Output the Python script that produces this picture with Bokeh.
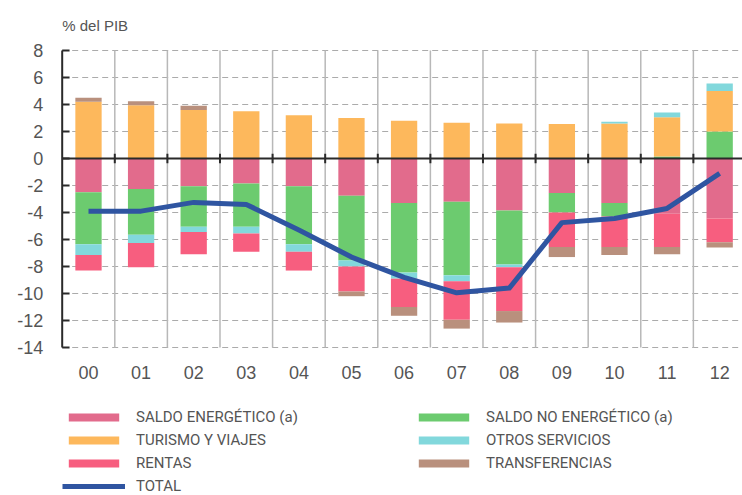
from bokeh.plotting import figure
from bokeh.models import Range1d, Legend, LegendItem
from bokeh.core.properties import value
from bokeh.embed import file_html
from bokeh.resources import INLINE

years = ["00", "01", "02", "03", "04", "05", "06", "07", "08", "09", "10", "11", "12"]
saldo_energetico = [-2.5, -2.25, -2.05, -1.85, -2.05, -2.75, -3.3, -3.2, -3.85, -2.55, -3.3, -4.1, -4.45]
saldo_no_energetico = [-3.85, -3.4, -3.0, -3.2, -4.3, -4.8, -5.15, -5.45, -4.0, -1.45, -1.0, 0.15, 2.0]
turismo_viajes = [4.2, 3.95, 3.6, 3.5, 3.2, 3.0, 2.8, 2.65, 2.6, 2.55, 2.6, 2.9, 3.0]
otros_servicios = [-0.8, -0.6, -0.4, -0.5, -0.55, -0.45, -0.45, -0.45, -0.2, 0.0, 0.12, 0.35, 0.55]
rentas = [-1.15, -1.8, -1.65, -1.35, -1.4, -1.85, -2.1, -2.85, -3.25, -2.55, -2.25, -2.45, -1.75]
transferencias = [0.3, 0.3, 0.3, 0.0, 0.0, -0.35, -0.65, -0.65, -0.85, -0.75, -0.6, -0.55, -0.4]
total = [-3.9, -3.9, -3.25, -3.4, -5.3, -7.3, -8.8, -9.95, -9.6, -4.75, -4.45, -3.7, -1.1]
y_ticks = [-14, -12, -10, -8, -6, -4, -2, 0, 2, 4, 6, 8]
y_label = "% del PIB"

series = [
    ("SALDO ENERGÉTICO (a)", saldo_energetico, "#E26B8C"),
    ("SALDO NO ENERGÉTICO (a)", saldo_no_energetico, "#6CCB6F"),
    ("TURISMO Y VIAJES", turismo_viajes, "#FDB85C"),
    ("OTROS SERVICIOS", otros_servicios, "#82D8DC"),
    ("RENTAS", rentas, "#F75E7F"),
    ("TRANSFERENCIAS", transferencias, "#B9907D"),
]
total_color = "#2F55A1"
text_color = "#555555"
axis_color = "#2A2A2A"

n = len(years)
xs = [i + 0.5 for i in range(n)]
ymin, ymax = min(y_ticks), max(y_ticks)

# the whole canvas is the plotting frame; scales chosen so the chart area sits where the reference has it
p = figure(width=742, height=495, output_backend="svg", toolbar_location=None,
           x_axis_type=None, y_axis_type=None, title_location=None,
           x_range=Range1d(-1.173, 12.934), y_range=Range1d(-24.963, 11.704),
           min_border=0)
p.outline_line_color = None
p.background_fill_color = "white"
p.border_fill_color = "white"

right_end = p.x_range.end

# horizontal dashed grid
grid_ys = [t for t in y_ticks if t != 0]
p.segment(x0=[0] * len(grid_ys), y0=grid_ys, x1=[right_end] * len(grid_ys), y1=grid_ys,
          line_color="#ABABAB", line_width=1, line_dash="6 4")
# vertical grid at category boundaries
bounds = list(range(1, n + 1))
p.segment(x0=bounds, y0=[ymin] * len(bounds), x1=bounds, y1=[ymax] * len(bounds),
          line_color="#B8B8B8", line_width=1.5)

# stacked bars (positive and negative stacks)
pos_base = [0.0] * n
neg_base = [0.0] * n
renderers = {}
for name, vals, color in series:
    bottoms, tops = [], []
    for i, v in enumerate(vals):
        if v >= 0:
            b = pos_base[i]; t = b + v; pos_base[i] = t
        else:
            b = neg_base[i]; t = b + v; neg_base[i] = t
        bottoms.append(b); tops.append(t)
    r = p.vbar(x=xs, width=0.5, bottom=bottoms, top=tops, fill_color=color, line_color=None)
    renderers[name] = r

# zero line with boundary ticks
p.segment(x0=[0], y0=[0], x1=[right_end], y1=[0], line_color=axis_color, line_width=2)
zb = list(range(1, n))
p.segment(x0=zb, y0=[-0.35] * len(zb), x1=zb, y1=[0.35] * len(zb),
          line_color=axis_color, line_width=2)

# left axis (line, inward ticks, labels)
p.segment(x0=[0], y0=[ymin], x1=[0], y1=[ymax], line_color=axis_color, line_width=2)
p.segment(x0=[0] * len(y_ticks), y0=y_ticks, x1=[0.14] * len(y_ticks), y1=y_ticks,
          line_color=axis_color, line_width=2)
p.text(x=[0] * len(y_ticks), y=y_ticks, text=[str(t) for t in y_ticks],
       x_offset=-19, text_align="right", text_baseline="middle",
       text_font=value("Liberation Sans"), text_font_size="18px", text_color=text_color)
# category labels
p.text(x=xs, y=[ymin] * n, text=years, y_offset=25, text_align="center", text_baseline="middle",
       text_font=value("Liberation Sans"), text_font_size="18px", text_color=text_color)
# unit label
p.text(x=[0], y=[ymax], text=[y_label], y_offset=-25, text_align="left", text_baseline="middle",
       text_font=value("Liberation Sans"), text_font_size="15px", text_color=text_color)

# total line
r_total = p.line(xs, total, line_color=total_color, line_width=5, line_join="round")


def make_legend(items, loc):
    return Legend(items=items, location=loc, orientation="vertical",
                  glyph_width=63, glyph_height=10, label_height=18, spacing=5,
                  label_standoff=11, padding=0, margin=0,
                  border_line_color=None, background_fill_alpha=0,
                  label_text_font="Roboto", label_text_font_size="15px",
                  label_text_color=text_color)


left_items = [
    LegendItem(label="SALDO ENERGÉTICO (a)", renderers=[renderers["SALDO ENERGÉTICO (a)"]]),
    LegendItem(label="TURISMO Y VIAJES", renderers=[renderers["TURISMO Y VIAJES"]]),
    LegendItem(label="RENTAS", renderers=[renderers["RENTAS"]]),
    LegendItem(label="TOTAL", renderers=[r_total]),
]
right_items = [
    LegendItem(label="SALDO NO ENERGÉTICO (a)", renderers=[renderers["SALDO NO ENERGÉTICO (a)"]]),
    LegendItem(label="OTROS SERVICIOS", renderers=[renderers["OTROS SERVICIOS"]]),
    LegendItem(label="TRANSFERENCIAS", renderers=[renderers["TRANSFERENCIAS"]]),
]
p.add_layout(make_legend(left_items, (62, 0)))
p.add_layout(make_legend(right_items, (412, 23)))

open("out.html", "w").write(file_html(p, INLINE))
